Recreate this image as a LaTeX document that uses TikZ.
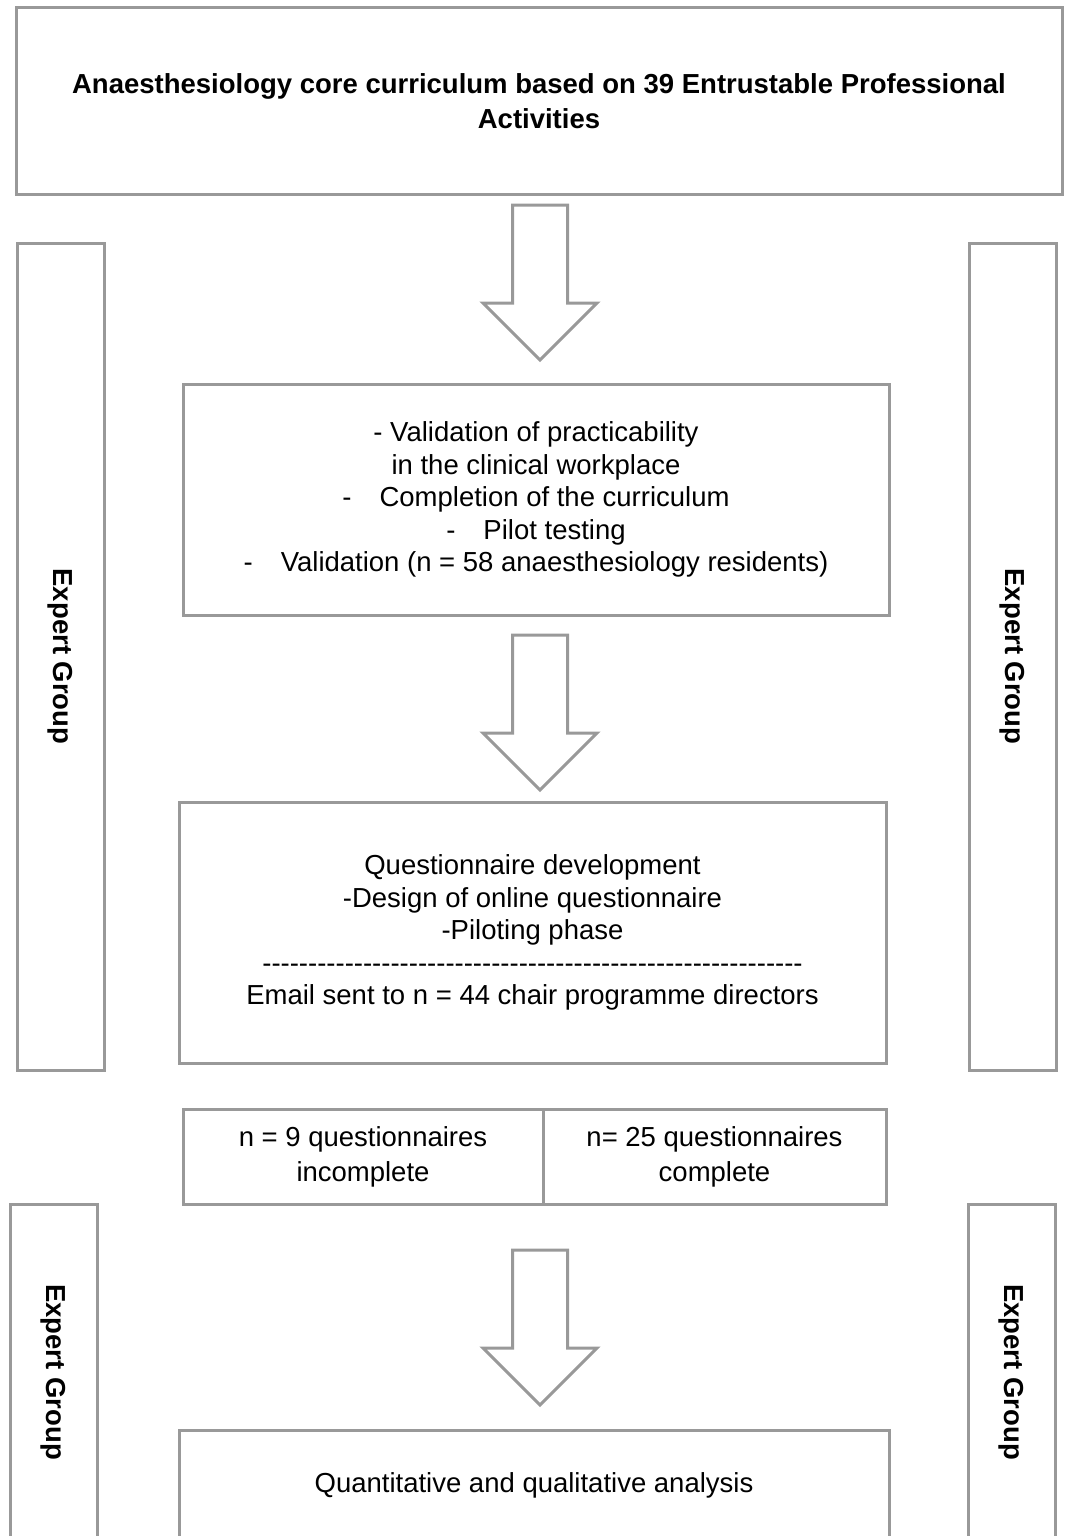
\documentclass[tikz,border=0pt]{standalone}
\usepackage{fontspec}
\setmainfont{Liberation Sans}
\usepackage{tikz}
\usetikzlibrary{calc,positioning}

\definecolor{linegray}{RGB}{153,153,153}

% one hyphen, kept apart from its neighbours
\newcommand{\hy}{-\kern0pt}
\newcommand{\hyrow}{\hy\hy\hy\hy\hy\hy\hy\hy\hy\hy}

% hollow block arrow from tail (#1) to tip (#2)
\newcommand{\bigarrow}[2]{%
    \draw[blockarr] ($(#1)+(-27.5,0)$) -- ($(#1)+(27.5,0)$)
        -- ($(#2)+(27.5,-57)$) -- ($(#2)+(57,-57)$) -- (#2)
        -- ($(#2)+(-57,-57)$) -- ($(#2)+(-27.5,-57)$) -- cycle;}

\begin{document}
\begin{tikzpicture}[
    x=1pt, y=-1pt,
    box/.style={
        draw=linegray,
        line width=3pt,
        inner sep=0pt,
        outer sep=0pt,
        align=center,
        font=\fontsize{27.5pt}{32.5pt}\selectfont
    },
    head/.style={
        box,
        font=\bfseries\fontsize{27.5pt}{35pt}\selectfont
    },
    half/.style={
        box,
        minimum height=95pt,
        font=\fontsize{27.5pt}{35pt}\selectfont
    },
    side/.style={
        box,
        rotate=-90,
        minimum height=87pt,
        font=\bfseries\fontsize{27.5pt}{33pt}\selectfont
    },
    blockarr/.style={draw=linegray, line width=3pt, fill=white, line join=miter}
]
    \useasboundingbox (0,0) rectangle (1065,1536);

    %% Curriculum
    \node[head, minimum width=1046pt, minimum height=186pt] (curr) at (539,101)
        {Anaesthesiology core curriculum based on 39 Entrustable Professional\\Activities};

    %% Validation
    \node[box, minimum width=706pt, minimum height=231pt, below=190pt of curr, xshift=-3pt] (valid)
        {- Validation of practicability\\
         in the clinical workplace\\
         -\hspace{28pt}Completion of the curriculum\\
         -\hspace{28pt}Pilot testing\\
         -\hspace{28pt}Validation (n = 58 anaesthesiology residents)};

    %% Questionnaire
    \node[box, minimum width=707pt, minimum height=261pt, below=187pt of valid, xshift=-3.5pt] (quest)
        {Questionnaire development\\
         -Design of online questionnaire\\
         -Piloting phase\\
         \hyrow\hyrow\hyrow\hyrow\hyrow\hy\hy\hy\hy\hy\hy\hy\hy\hy\\
         Email sent to n = 44 chair programme directors};

    %% Returns
    \node[half, minimum width=360pt, below=46pt of quest.south west, anchor=north west, xshift=4pt] (incomp)
        {n = 9 questionnaires\\incomplete};
    \node[half, minimum width=343pt, right=0pt of incomp] (comp)
        {n= 25 questionnaires\\complete};

    %% Analysis
    \node[box, minimum width=710pt, minimum height=110pt] (anal) at (534,1485)
        {Quantitative and qualitative analysis};

    %% Expert group
    \node[side, minimum width=827pt] (expL1) at (60.5,656.5) {Expert Group};
    \node[side, minimum width=827pt] (expR1) at (1012.5,656.5) {Expert Group};
    \node[side, minimum width=336pt] (expL2) at (53.5,1372) {Expert Group};
    \node[side, minimum width=336pt] (expR2) at (1011.5,1372) {Expert Group};

    %% Arrows
    \coordinate (a1s) at ($(curr.south)+(1,11)$);
    \coordinate (a1e) at ($(valid.north)+(4,-24)$);
    \coordinate (a2s) at ($(valid.south)+(4,20)$);
    \coordinate (a2e) at ($(quest.north)+(7.5,-12)$);
    \coordinate (a3s) at ($(incomp.south east)+(-3,46)$);
    \coordinate (a3e) at ($(anal.north)+(6,-25)$);
    \bigarrow{a1s}{a1e}
    \bigarrow{a2s}{a2e}
    \bigarrow{a3s}{a3e}
\end{tikzpicture}
\end{document}
